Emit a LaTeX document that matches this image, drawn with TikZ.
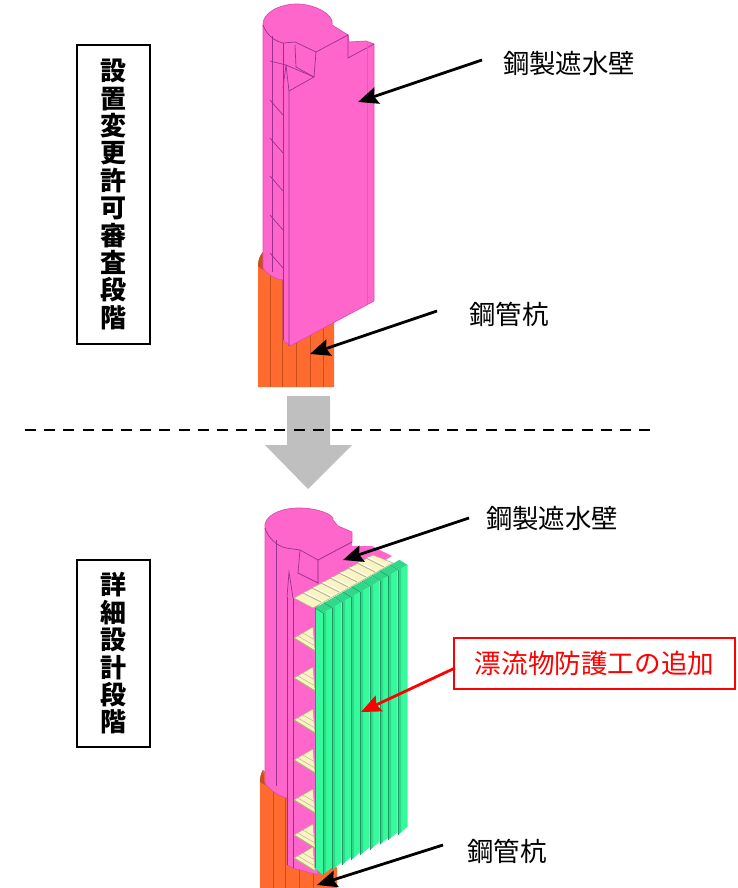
\documentclass[tikz,border=0pt]{standalone}
\usepackage{fontspec}
\setmainfont{Noto Sans CJK JP}
\usetikzlibrary{arrows.meta}
\definecolor{wallpink}{HTML}{FF66CC}
\definecolor{walledge}{HTML}{D94FB0}
\definecolor{wallline}{HTML}{9C3090}
\definecolor{pileorange}{HTML}{FF6A2E}
\definecolor{pileline}{HTML}{C9501E}
\definecolor{guardgreen}{HTML}{36FB9C}
\definecolor{guardmid}{HTML}{30D88A}
\definecolor{guarddark}{HTML}{1C9A62}
\definecolor{shelfcream}{HTML}{F8F4C4}
\definecolor{shelfline}{HTML}{B5AE80}
\tikzset{
  stagebox/.style={draw,line width=1.3pt,fill=white,font=\fontsize{26}{27.4}\selectfont\bfseries,align=center,inner sep=0pt,minimum width=73pt},
  partlabel/.style={font=\fontsize{26.4}{30}\selectfont},
  leader/.style={line width=2.8pt,-{Stealth[length=20pt,width=17pt,inset=3pt]}},
  wall/.style={fill=wallpink,draw=walledge,line width=.7pt,line join=round},
  wallthin/.style={draw=wallline,line width=.7pt},
  pile/.style={fill=pileorange,draw=none},
  pilethin/.style={draw=pileline,line width=.7pt},
  shelf/.style={fill=shelfcream,draw=shelfline,line width=.5pt,line join=round}
}
\begin{document}
\begin{tikzpicture}[x=1pt,y=-1pt]
\useasboundingbox (0,0) rectangle (737,888);
% upper column
\fill[pile] (258,387) -- (258,266) .. controls (258,260) and (260,255) .. (263,252) -- (285,262) -- (334,300) -- (334,387) -- cycle;
\foreach \x in {270,282,296,310,323}
  \draw[pilethin] (\x,275) -- (\x,387);
\fill[pileline] (258,266) .. controls (258,260) and (260,255) .. (263,252) -- (263,270) -- cycle;
\draw[wall] (263,25) -- (263,268) .. controls (268,275) and (275,279) .. (283,280) -- (283,340) -- (290,346) -- (374,301) -- (374,44) -- (366,41) -- (349,42) -- (348,35) -- (332,25) .. controls (335,15) and (315,4) .. (297,4) .. controls (278,4) and (262,14) .. (263,25) -- cycle;
\draw[wallthin] (263,25) .. controls (266,34) and (274,41) .. (283,43) -- (295,42) -- (316,52) -- (348,35) -- (348,58) -- (374,44);
\draw[wallthin] (316,52) -- (314,77) -- (289,91) -- (289,346);
\draw[wallthin] (283,43) -- (283,340);
\draw[wallthin] (272,36) -- (272,272);
\draw[wallthin] (295,45) -- (296,67) -- (314,77);
\draw[wallthin] (270,61) -- (286,65) -- (289,91);
\draw[wallthin] (286,65) -- (283,88);
\draw[wallthin] (286,65) -- (314,77);
\draw[walledge!60!wallpink] (367,44) -- (367,304);
\foreach \y in {100,138,176,215,253}
  \draw[wallthin] (270,\y) -- (283,\y+15);
% lower column
\fill[pile] (260,888) -- (260,782) .. controls (260,777) and (261,773) .. (263,770) -- (290,790) -- (337,868) -- (337,888) -- cycle;
\foreach \x in {273,285,299,313}
  \draw[pilethin] (\x,790) -- (\x,888);
\fill[pileline] (260,782) .. controls (260,777) and (261,773) .. (263,770) -- (265,785) -- cycle;
\fill[wallpink] (352,542) -- (352,546) -- (372,546) -- (392,556) -- (318,600) -- (318,560) -- cycle;
\draw[wall] (265,528) -- (265,783) .. controls (270,790) and (278,796) .. (287,798) -- (287,865) -- (293,868) -- (318,875) -- (318,560) -- (352,542) -- (352,532) -- (338,526) -- (333,520) .. controls (335,515) and (318,508) .. (299,508) .. controls (280,508) and (263,516) .. (265,528) -- cycle;
\draw[wallthin] (265,528) .. controls (268,538) and (277,546) .. (286,548) -- (300,550) -- (318,560) -- (352,542);
\draw[wallthin] (318,560) -- (318,583) -- (298,573) -- (300,550);
\draw[wallthin] (276,540) -- (276,786);
\draw[wallthin] (287,597) -- (289,572) -- (293,598);
\draw[wallthin] (287,597) -- (287,865);
\draw[wallthin] (293,598) -- (293,868);
% shelves of the guard
\draw[shelf] (294,598) -- (373,555) -- (393,563) -- (313,608) -- cycle;
\foreach \a/\b in {303/593,312/588,321/583,330/578,339/573,348/568,357/563,366/558}{
  \draw[shelfline,line width=.8pt] (\a,\b) -- (\a+18,\b+9);
  \draw[white,line width=.7pt] (\a+1.5,\b-1) -- (\a+19.5,\b+8);
}
\foreach \y in {638,678,720,760,800,835,858}{
  \draw[shelf] (294,\y) -- (313,\y-11) -- (315,\y+13) -- cycle;
  \draw[shelfline] (298,\y-2) -- (315,\y+8);
  \draw[shelfline] (303,\y-5) -- (315,\y+2);
  \draw[shelfline,line width=1pt] (294,\y) -- (315,\y+13);
}
% guard panel
\fill[guardgreen] (315,608) -- (323,613) -- (323,875) -- (315,868) -- cycle;
\foreach \x in {323,332,342,351,360,370,380,388,398}{
  \pgfmathsetmacro\ya{613-(\x-323)*.57}
  \pgfmathsetmacro\yb{875-(\x-323)*.536}
  \fill[guardgreen] (\x,\ya) -- (\x+9.5,\ya-5.4) -- (\x+9.5,\yb-8) -- (\x,\yb) -- cycle;
  \fill[guardmid] (\x,\ya) -- (\x+3,\ya-1.7) -- (\x+3,\yb-2.5) -- (\x,\yb) -- cycle;
  \draw[guarddark,line width=.6pt] (\x,\ya) -- (\x,\yb);
  \fill[guardmid] (\x,\ya) -- (\x-8,\ya-5) -- (\x+1.5,\ya-10.4) -- (\x+9.5,\ya-5.4) -- cycle;
  \draw[guarddark,line width=.5pt] (\x,\ya) -- (\x-8,\ya-5);
}
\draw[guarddark,line width=.6pt] (315,608) -- (315,868);
% gray arrow and dashed line
\fill[gray!50] (287,396) -- (330,396) -- (330,445) -- (352,445) -- (308,489) -- (265,445) -- (287,445) -- cycle;
\coordinate (dashL) at (25,430);
\coordinate (dashR) at (650,430);
\draw[line width=2pt,dash pattern=on 11pt off 8.19pt] (dashL) -- (dashR);
% stage boxes
\node[stagebox,minimum height=299pt] (stageA) at (113.5,194.5) {設\\置\\変\\更\\許\\可\\審\\査\\段\\階};
\node[stagebox,minimum height=187pt] (stageB) at (113.5,653.5) {詳\\細\\設\\計\\段\\階};
% labels
\node[partlabel] (wallA) at (569,63) {鋼製遮水壁};
\node[partlabel] (pileA) at (509,314) {鋼管杭};
\node[partlabel] (wallB) at (552,518) {鋼製遮水壁};
\node[partlabel] (pileB) at (507,851) {鋼管杭};
\node[draw=red,line width=1.3pt,text=red,font=\fontsize{26.6}{30}\selectfont,minimum width=281pt,minimum height=51pt,inner sep=0pt,fill=white] (addBox) at (594.5,663.5) {漂流物防護工の追加};
\coordinate (tipWallA) at (358,102);
\coordinate (tipPileA) at (310,354);
\coordinate (tipWallB) at (343,560);
\coordinate (tipAdd) at (361,712);
\coordinate (tipPileB) at (317,885);
\coordinate (tailWallA) at (482,60);
\coordinate (tailPileA) at (437,311);
\coordinate (tailWallB) at (469,518);
\coordinate (tailPileB) at (443,845);
\coordinate (tailAdd) at (455,668);
\draw[leader] (tailWallA) -- (tipWallA);
\draw[leader] (tailPileA) -- (tipPileA);
\draw[leader] (tailWallB) -- (tipWallB);
\draw[leader] (tailPileB) -- (tipPileB);
\draw[leader,red] (tailAdd) -- (tipAdd);
\end{tikzpicture}
\end{document}
